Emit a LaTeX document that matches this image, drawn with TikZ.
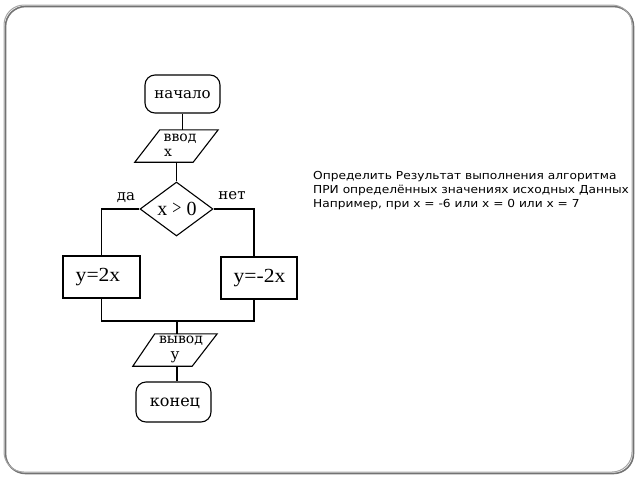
\documentclass[tikz,border=0pt]{standalone}
\usepackage{fontspec}
\setmainfont{Liberation Serif}
\newfontfamily\wordf{DejaVu Serif}
\newfontfamily\dejav[FakeStretch=1.11]{DejaVu Sans}
\usetikzlibrary{shapes.geometric,calc}
\begin{document}
\begin{tikzpicture}[x=1pt,y=-1pt,
  fc/.style={line width=1.1pt,black},
  termbox/.style={draw,fc,rounded corners=10pt,inner sep=0pt},
  procbox/.style={draw,fc,inner sep=0pt},
  iobox/.style={inner sep=0pt},
  decbox/.style={draw,fc,diamond,inner sep=0pt},
  wtxt/.style={font=\wordf\fontsize{15}{15}\selectfont,inner sep=0pt},
  mtxt/.style={font=\fontsize{20}{20}\selectfont,inner sep=0pt},
  conn/.style={fc}
]
\useasboundingbox (0,0) rectangle (640,480);
% frame
\draw[line width=1.6pt,color=black!55,rounded corners=20pt] (5.5,6.5) rectangle (633.5,473.5);
\draw[line width=1pt,color=black!35,rounded corners=20pt] (4,5) rectangle (632,472);
% start
\node[termbox,minimum width=75pt,minimum height=38pt] (start) at (182.5,94) {};
\node[wtxt] (startT) at (182.5,95) {начало};
% input
\node[iobox,minimum width=83pt,minimum height=32pt] (in) at (176.5,146) {};
\draw[fc] (in.south west) -- ([xshift=-25pt]in.south east) -- (in.north east) -- ([xshift=25pt]in.north west) -- cycle;
\node[wtxt,font=\wordf\fontsize{14}{14}\selectfont,anchor=west] (inT1) at (163.5,139) {ввод};
\node[wtxt,font=\wordf\fontsize{14}{14}\selectfont,anchor=west] (inT2) at (164,152.5) {x};
% decision
\node[decbox,minimum width=73pt,minimum height=54pt] (dec) at (176.5,209) {};
\node[mtxt] (decT) at (177,209) {x \raisebox{1pt}{\scalebox{0.8}[1]{>}} 0};
\node[wtxt] (yes) at (126,198) {да};
\node[wtxt] (no) at (232,196) {нет};
% branches
\node[procbox,minimum width=77pt,minimum height=42pt] (L) at (101.5,277) {};
\node[mtxt] (LT) at (98,277) {\scalebox{1.08}[1]{y=2x}};
\node[procbox,minimum width=76pt,minimum height=42pt] (R) at (259,278) {};
\node[mtxt] (RT) at (259.5,278) {\scalebox{1.08}[1]{y=-2x}};
% output
\node[iobox,minimum width=84pt,minimum height=32pt] (out) at (175,350) {};
\draw[fc] (out.south west) -- ([xshift=-25pt]out.south east) -- (out.north east) -- ([xshift=22pt]out.north west) -- cycle;
\node[wtxt,font=\wordf\fontsize{14}{14}\selectfont] (outT1) at (181,340.5) {вывод};
\node[wtxt,font=\wordf\fontsize{15}{15}\selectfont] (outT2) at (175,357) {y};
% end
\node[termbox,minimum width=75pt,minimum height=40pt] (end) at (173.5,402) {};
\node[wtxt,font=\wordf\fontsize{16}{16}\selectfont] (endT) at (175,403) {конец};
% connectors
\coordinate (j) at (177,321);
\draw[conn] (start.south) -- (start.south |- in.north);
\draw[conn] (in.south) -- (dec.north);
\draw[conn] (dec.west) -| (L.north);
\draw[conn] (dec.east) -| ([xshift=-5pt]R.north);
\draw[conn] (L.south) |- (j) -| ([xshift=-5pt]R.south);
\draw[conn] (j) -- (j |- out.north);
\draw[conn] (j |- out.south) -- (j |- end.north);
% text
\node[font=\dejav\fontsize{11}{14}\selectfont,anchor=base west,align=left,inner sep=0pt] (note) at (313,207.5)
 {Определить Результат выполнения алгоритма\\ПРИ определённых значениях исходных Данных\\Например, при x = -6 или x = 0 или x = 7};
\end{tikzpicture}
\end{document}
